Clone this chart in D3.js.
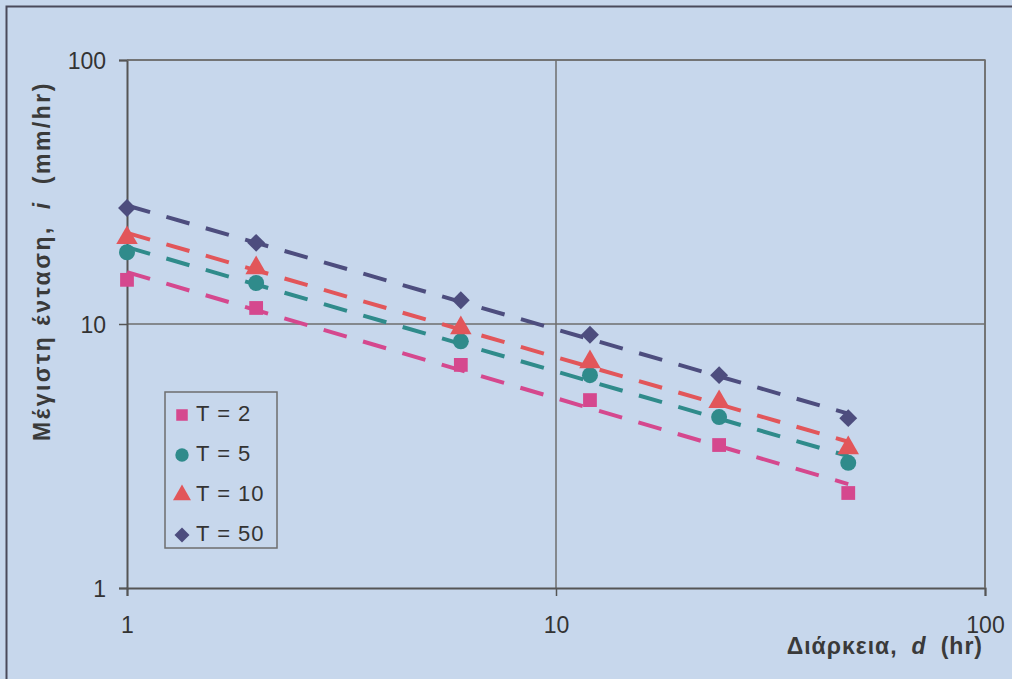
<!DOCTYPE html>
<html>
<head>
<meta charset="utf-8">
<script src="https://cdn.jsdelivr.net/npm/d3@7"></script>
<style>
  html, body { margin: 0; padding: 0; background: #c7d7ec; }
  svg { display: block; font-family: "Liberation Sans", Arial, sans-serif; }
  .tick-label { font-size: 23px; fill: #333; }
  .axis-title { font-size: 23px; font-weight: bold; fill: #3a3a3a; letter-spacing: 1px; }
  .legend-label { font-size: 22px; fill: #333; letter-spacing: 1px; }
</style>
</head>
<body>
<div id="chart"></div>
<script>
'use strict';

// durations (hr)
const durations = [1, 2, 6, 12, 24, 48];

// max intensity (mm/hr) per return period
const seriesT2 = [14.7, 11.5, 7.0, 5.15, 3.48, 2.29];
const seriesT5 = [18.7, 14.3, 8.6, 6.4, 4.44, 2.98];
const seriesT10 = [21.2, 16.3, 9.66, 7.18, 5.07, 3.39];
const seriesT50 = [27.5, 20.3, 12.3, 9.1, 6.4, 4.4];

const seriesNames = ['T = 2', 'T = 5', 'T = 10', 'T = 50'];
const tickValues = [1, 10, 100];

const colours = ['#d5488e', '#2f8b8b', '#e2565a', '#4d4d7e'];

// excel-like markers: square, circle, triangle, diamond (square turned 45deg)
const markers = [
  {type: d3.symbolSquare, size: 190, rotate: 0},
  {type: d3.symbolCircle, size: 200, rotate: 0},
  {type: d3.symbolTriangle, size: 200, rotate: 0},
  {type: d3.symbolSquare, size: 160, rotate: 45}
];

const width = 1012;
const height = 679;
const margin = {top: 60, right: 27, bottom: 91, left: 127};
const plotW = width - margin.left - margin.right;
const plotH = height - margin.top - margin.bottom;

const svg = d3.select('#chart').append('svg')
  .attr('width', width)
  .attr('height', height);

// outer chart frame (only top/left visible in the picture)
svg.append('path')
  .attr('d', 'M6.5,700 V6.5 H1020')
  .attr('fill', 'none')
  .attr('stroke', '#4a4a5a')
  .attr('stroke-width', 2);

const g = svg.append('g')
  .attr('transform', 'translate(' + margin.left + ',' + margin.top + ')');

const xScale = d3.scaleLog().domain([1, 100]).range([0, plotW]);
const yScale = d3.scaleLog().domain([1, 100]).range([plotH, 0]);

// gridlines
g.selectAll('.grid-x')
  .data(tickValues.slice(1))
  .enter().append('line')
  .attr('x1', d => xScale(d)).attr('x2', d => xScale(d))
  .attr('y1', 0).attr('y2', plotH)
  .attr('stroke', '#6e6e6e').attr('stroke-width', 1.5);

g.selectAll('.grid-y')
  .data(tickValues.slice(1))
  .enter().append('line')
  .attr('x1', 0).attr('x2', plotW)
  .attr('y1', d => yScale(d)).attr('y2', d => yScale(d))
  .attr('stroke', '#6e6e6e').attr('stroke-width', 1.5);

// axes
const xAxis = d3.axisBottom(xScale).tickValues(tickValues).tickSize(8).tickFormat(d3.format('d'));
const yAxis = d3.axisLeft(yScale).tickValues(tickValues).tickSize(8).tickFormat(d3.format('d'));

const gx = g.append('g')
  .attr('transform', 'translate(0,' + plotH + ')')
  .call(xAxis);
const gy = g.append('g').call(yAxis);

[gx, gy].forEach(ax => {
  ax.select('.domain').attr('stroke', '#555').attr('stroke-width', 2);
  ax.selectAll('.tick line').attr('stroke', '#555').attr('stroke-width', 1.5);
  ax.selectAll('.tick text').attr('class', 'tick-label').attr('fill', '#333').style('font-size', '23px');
});
gx.selectAll('.tick text').attr('dy', '1em').attr('y', 22);
gy.selectAll('.tick text').attr('x', -21).attr('dy', '0.35em');

// plot area border right/top
g.append('path')
  .attr('d', 'M0,0 H' + plotW + ' V' + plotH)
  .attr('fill', 'none')
  .attr('stroke', '#6e6e6e')
  .attr('stroke-width', 1.5);

// axis titles
g.append('text')
  .attr('class', 'axis-title')
  .attr('text-anchor', 'end')
  .attr('x', plotW - 2)
  .attr('y', plotH + 66)
  .call(t => {
    t.append('tspan').text('Διάρκεια,');
    t.append('tspan').attr('dx', 14).style('font-style', 'italic').text('d');
    t.append('tspan').attr('dx', 14).text('(hr)');
  });

svg.append('text')
  .attr('class', 'axis-title')
  .attr('text-anchor', 'middle')
  .attr('transform', 'translate(50,' + 261 + ') rotate(-90)')
  .style('letter-spacing', '2.5px')
  .call(t => {
    t.append('tspan').text('Μέγιστη ένταση,');
    t.append('tspan').attr('dx', 16).style('font-style', 'italic').text('i');
    t.append('tspan').attr('dx', 16).text('(mm/hr)');
  });

// power-law trendlines (least squares in log-log space) and markers
const allSeries = [seriesT2, seriesT5, seriesT10, seriesT50];

function powerFit(xs, ys) {
  const lx = xs.map(Math.log), ly = ys.map(Math.log);
  const mx = d3.mean(lx), my = d3.mean(ly);
  const b = d3.sum(lx, (v, i) => (v - mx) * (ly[i] - my)) / d3.sum(lx, v => (v - mx) * (v - mx));
  const a = Math.exp(my - b * mx);
  return x => a * Math.pow(x, b);
}

const line = d3.line().x(d => xScale(d[0])).y(d => yScale(d[1]));

allSeries.forEach((vals, si) => {
  const fit = powerFit(durations, vals);
  const ends = d3.extent(durations);
  g.append('path')
    .datum(ends.map(x => [x, fit(x)]))
    .attr('d', line)
    .attr('fill', 'none')
    .attr('stroke', colours[si])
    .attr('stroke-width', 4)
    .attr('stroke-dasharray', '24,17');
});

allSeries.forEach((vals, si) => {
  const m = markers[si];
  g.selectAll('.pt' + si)
    .data(durations.map((x, i) => [x, vals[i]]))
    .enter().append('path')
    .attr('d', d3.symbol().type(m.type).size(m.size))
    .attr('transform', d => 'translate(' + xScale(d[0]) + ',' + yScale(d[1]) + ') rotate(' + m.rotate + ')')
    .attr('fill', colours[si]);
});

// legend
const legend = svg.append('g').attr('transform', 'translate(165,392)');
legend.append('rect')
  .attr('width', 112).attr('height', 156)
  .attr('fill', 'none')
  .attr('stroke', '#6e6e6e').attr('stroke-width', 1.5);

const items = legend.selectAll('.item')
  .data(seriesNames)
  .enter().append('g')
  .attr('transform', (d, i) => 'translate(0,' + (21 + i * 40) + ')');

items.append('path')
  .attr('d', (d, i) => d3.symbol().type(markers[i].type).size(markers[i].size * 0.7)())
  .attr('transform', (d, i) => 'translate(17,2) rotate(' + markers[i].rotate + ')')
  .attr('fill', (d, i) => colours[i]);

items.append('text')
  .attr('class', 'legend-label')
  .attr('x', 31)
  .attr('dy', '0.35em')
  .text(d => d);
</script>
</body>
</html>
